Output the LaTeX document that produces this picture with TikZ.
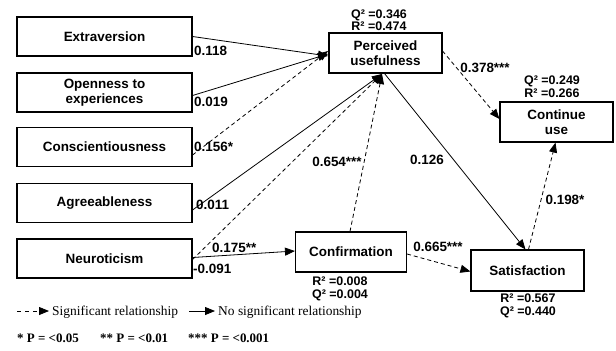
\documentclass[tikz,border=0pt]{standalone}
\usepackage{fontspec}
\setmainfont{Liberation Serif}
\setsansfont{Liberation Sans}
\usetikzlibrary{arrows.meta}
\begin{document}
\begin{tikzpicture}[x=1bp,y=-1bp,
  box/.style={draw,line width=1.1bp,minimum width=175bp,minimum height=39bp,inner sep=1bp,align=center,
    font=\sffamily\bfseries\fontsize{13.5}{15.5}\selectfont},
  sbox/.style={box,minimum width=113bp,minimum height=40bp},
  lab/.style={font=\sffamily\bfseries\fontsize{13.5}{15}\selectfont,inner sep=0pt},
  qr/.style={font=\sffamily\bfseries\fontsize{12.5}{12.5}\selectfont,inner sep=0pt,align=center},
  arr/.style={line width=0.8bp,-{Triangle[length=10bp,width=8bp]}},
  sig/.style={arr,dash pattern=on 4bp off 3bp},
  ns/.style={arr},
  pnote/.style={anchor=west,inner sep=0pt,font=\fontsize{13}{15}\selectfont\bfseries}]
\useasboundingbox (0,0) rectangle (616,350);
% boxes
\node[box] (ext) at (104.5,36.5) {Extraversion};
\node[box] (ope) at (104.5,92.5) {Openness to\\experiences};
\node[box] (con) at (104.5,147) {Conscientiousness};
\node[box] (agr) at (104.5,203) {Agreeableness};
\node[box] (neu) at (104.5,258.5) {Neuroticism};
\node[sbox] (pu) at (385.5,53) {Perceived\\usefulness};
\node[sbox] (cu) at (556.5,122) {Continue\\use};
\node[sbox,minimum width=111bp] (cf) at (351,252) {Confirmation};
\node[sbox,minimum height=41bp] (sat) at (527.5,270.5) {Satisfaction};
% connector end points
\coordinate (puw) at (328,54);
\coordinate (pub) at (382,74);
% arrows
\draw[ns] (ext.east) -- ([yshift=-2bp]puw);
\draw[ns] ([yshift=-3bp]ope.east) -- (puw);
\draw[sig] ([yshift=-8bp]con.east) -- ([yshift=3bp]puw);
\draw[ns] ([yshift=-7bp]agr.east) -- (pub);
\draw[sig] ([yshift=-1bp]neu.east) -- (pub);
\draw[ns] ([yshift=1bp]neu.east) -- ([yshift=1bp]cf.west);
\draw[sig] ([xshift=-1bp]cf.north) -- (pub);
\draw[ns] ([xshift=-1bp]pu.south) -- ([xshift=-2bp]sat.north);
\draw[sig] ([yshift=2bp]pu.east) -- ([yshift=3bp]cu.west);
\draw[sig] ([xshift=1bp]sat.north) -- ([xshift=-1bp]cu.south);
\draw[sig] ([yshift=-2bp]cf.east) -- ([yshift=-1bp]sat.west);
% coefficient labels
\node[lab,anchor=west] (l1) at (194,51) {0.118};
\node[lab,anchor=west] (l2) at (194,102) {0.019};
\node[lab,anchor=west] (l3) at (194,147) {0.156*};
\node[lab,anchor=west] (l4) at (196,205) {0.011};
\node[lab,anchor=west] (l5) at (212,248) {0.175**};
\node[lab,anchor=west] (l6) at (193,269) {-0.091};
\node[lab] (l7) at (337,162) {0.654***};
\node[lab] (l8) at (427,160) {0.126};
\node[lab] (l9) at (485,68) {0.378***};
\node[lab] (l10) at (565,200) {0.198*};
\node[lab] (l11) at (438,247) {0.665***};
% Q/R labels
\node[qr] (qr1) at (379,20) {Q² =0.346\\R² =0.474};
\node[qr] (qr2) at (552,86.5) {Q² =0.249\\R² =0.266};
\node[qr] (qr3) at (340,289) {R² =0.008\\Q² =0.004};
\node[qr] (qr4) at (528,306) {R² =0.567\\Q² =0.440};
% legend
\coordinate (la1) at (17,311);
\coordinate (la2) at (49,311);
\coordinate (lb1) at (189,311);
\coordinate (lb2) at (215,311);
\draw[sig,dash pattern=on 4bp off 4bp] (la1) -- (la2);
\draw[ns] (lb1) -- (lb2);
\node[anchor=west,inner sep=0pt,font=\fontsize{13.5}{15}\selectfont] (lg1) at (52,312) {Significant relationship};
\node[anchor=west,inner sep=0pt,font=\fontsize{13.5}{15}\selectfont] (lg2) at (218,312) {No significant relationship};
\node[pnote] (p1) at (17,338) {* P = <0.05};
\node[pnote] (p2) at (100,338) {** P = <0.01};
\node[pnote] (p3) at (188,338) {*** P = <0.001};
\end{tikzpicture}
\end{document}
